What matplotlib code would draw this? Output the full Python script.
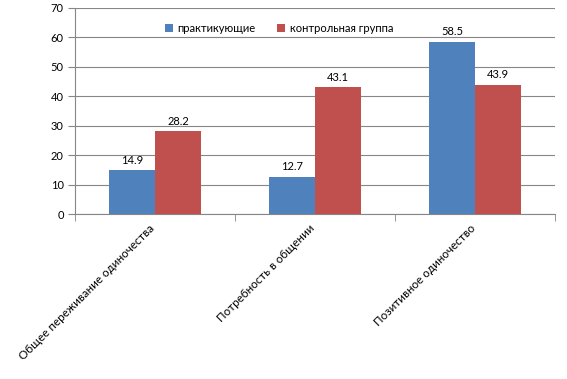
import numpy as np
import matplotlib.pyplot as plt
import matplotlib.transforms as mtransforms

categories = ["Общее переживание одиночества", "Потребность в общении", "Позитивное одиночество"]
practicing = [14.9, 12.7, 58.5]
control = [28.2, 43.1, 43.9]
series_names = ["практикующие", "контрольная группа"]

plt.rcParams["font.family"] = ["Lato", "DejaVu Sans"]
plt.rcParams["font.size"] = 8

fig = plt.figure(figsize=(5.67, 3.79), dpi=100)
ax = fig.add_axes([0.132, 0.435, 0.847, 0.544])

x = np.arange(len(categories))
w = 0.2875
b1 = ax.bar(x - w / 2, practicing, w, color="#4F81BD", label=series_names[0], zorder=3)
b2 = ax.bar(x + w / 2, control, w, color="#C0504D", label=series_names[1], zorder=3)

for bars in (b1, b2):
    for r in bars:
        ax.text(r.get_x() + r.get_width() / 2, r.get_height() + 1.5, f"{r.get_height():.1f}",
                ha="center", va="bottom", fontsize=8, color="black")

ax.set_xlim(-0.5, len(categories) - 0.5)
ax.set_ylim(0, 70)
ax.set_yticks(range(0, 71, 10))
ax.yaxis.grid(True, color="#868686", linewidth=0.8, zorder=0)

ax.set_xticks(x)
ax.set_xticklabels(categories, rotation=45, ha="right", rotation_mode="anchor", fontsize=8.4)
ax.tick_params(axis="x", length=0, pad=6)
# nudge rotated labels a bit to the left, like the original
shift = mtransforms.ScaledTranslation(-4 / 72, 0, fig.dpi_scale_trans)
for lbl in ax.get_xticklabels():
    lbl.set_transform(lbl.get_transform() + shift)
ax.set_xticks(np.arange(-0.5, len(categories)), minor=True)
ax.tick_params(axis="x", which="minor", length=5, color="#868686")
ax.tick_params(axis="y", length=5, color="#868686", pad=3)

for s in ["top", "right"]:
    ax.spines[s].set_visible(False)
for s in ["left", "bottom"]:
    ax.spines[s].set_color("#868686")

ax.legend(loc="upper center", bbox_to_anchor=(0.425, 0.975), ncol=2, frameon=False,
          handlelength=0.7, handleheight=0.7, columnspacing=2.0, handletextpad=0.4, fontsize=8)

fig.savefig("out.png", dpi=100)
